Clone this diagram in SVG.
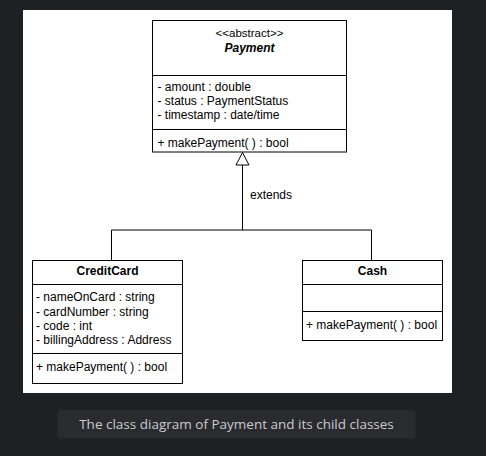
<svg xmlns="http://www.w3.org/2000/svg" width="486" height="456" viewBox="0 0 486 456">
<defs>
<style>
.box{fill:#ffffff;stroke:#000000;stroke-width:1}
.ln{fill:none;stroke:#000000;stroke-width:1}
.t{font-family:"Liberation Sans",Arial,sans-serif;font-size:12px;fill:#000000}
.c{text-anchor:middle}
.b{font-weight:bold}
.cap{font-family:"Open Sans","Noto Sans",sans-serif;font-size:13.5px;fill:#c9cacc;text-anchor:middle}
</style>
</defs>
<rect x="0" y="0" width="486" height="456" fill="#1f2023"/>
<rect x="23" y="10" width="429" height="383" fill="#ffffff"/>
<g id="connectors">
<path class="ln" d="M242.5 165V230M111.5 230H371.5M111.5 230V260.5M371.5 230V260.5"/>
<path class="box" d="M242.5 152.5L249 165H236Z"/>
<text class="t" x="250" y="199">extends</text>
</g>
<g id="payment">
<rect class="box" x="152.5" y="20.5" width="194" height="131.5"/>
<path class="ln" d="M152.5 75.5H346.5M152.5 129.5H346.5"/>
<text class="t c" x="249.5" y="37" style="font-size:11.5px">&lt;&lt;abstract&gt;&gt;</text>
<text class="t c b" x="249.5" y="51.5" font-style="italic">Payment</text>
<text class="t" x="157.5" y="91">- amount : double</text>
<text class="t" x="157.5" y="104.5">- status : PaymentStatus</text>
<text class="t" x="157.5" y="118.5">- timestamp : date/time</text>
<text class="t" x="157.5" y="146.5">+ makePayment( ) : bool</text>
</g>
<g id="creditcard">
<rect class="box" x="32.5" y="260.5" width="150" height="123"/>
<path class="ln" d="M32.5 284.5H182.5M32.5 353.5H182.5"/>
<text class="t c b" x="107.5" y="274.5">CreditCard</text>
<text class="t" x="36" y="301">- nameOnCard : string</text>
<text class="t" x="36" y="315.5">- cardNumber : string</text>
<text class="t" x="36" y="329.5">- code : int</text>
<text class="t" x="36" y="343.5">- billingAddress : Address</text>
<text class="t" x="36" y="370.5">+ makePayment( ) : bool</text>
</g>
<g id="cash">
<rect class="box" x="302.5" y="260.5" width="140" height="80"/>
<path class="ln" d="M302.5 284.5H442.5M302.5 311.5H442.5"/>
<text class="t c b" x="372.5" y="274.5">Cash</text>
<text class="t" x="306" y="328.5">+ makePayment( ) : bool</text>
</g>
<g id="caption">
<rect x="57.5" y="410" width="358" height="28.5" rx="3" fill="#2a2b2f"/>
<text class="cap" x="236.5" y="428.5">The class diagram of Payment and its child classes</text>
</g>
</svg>
